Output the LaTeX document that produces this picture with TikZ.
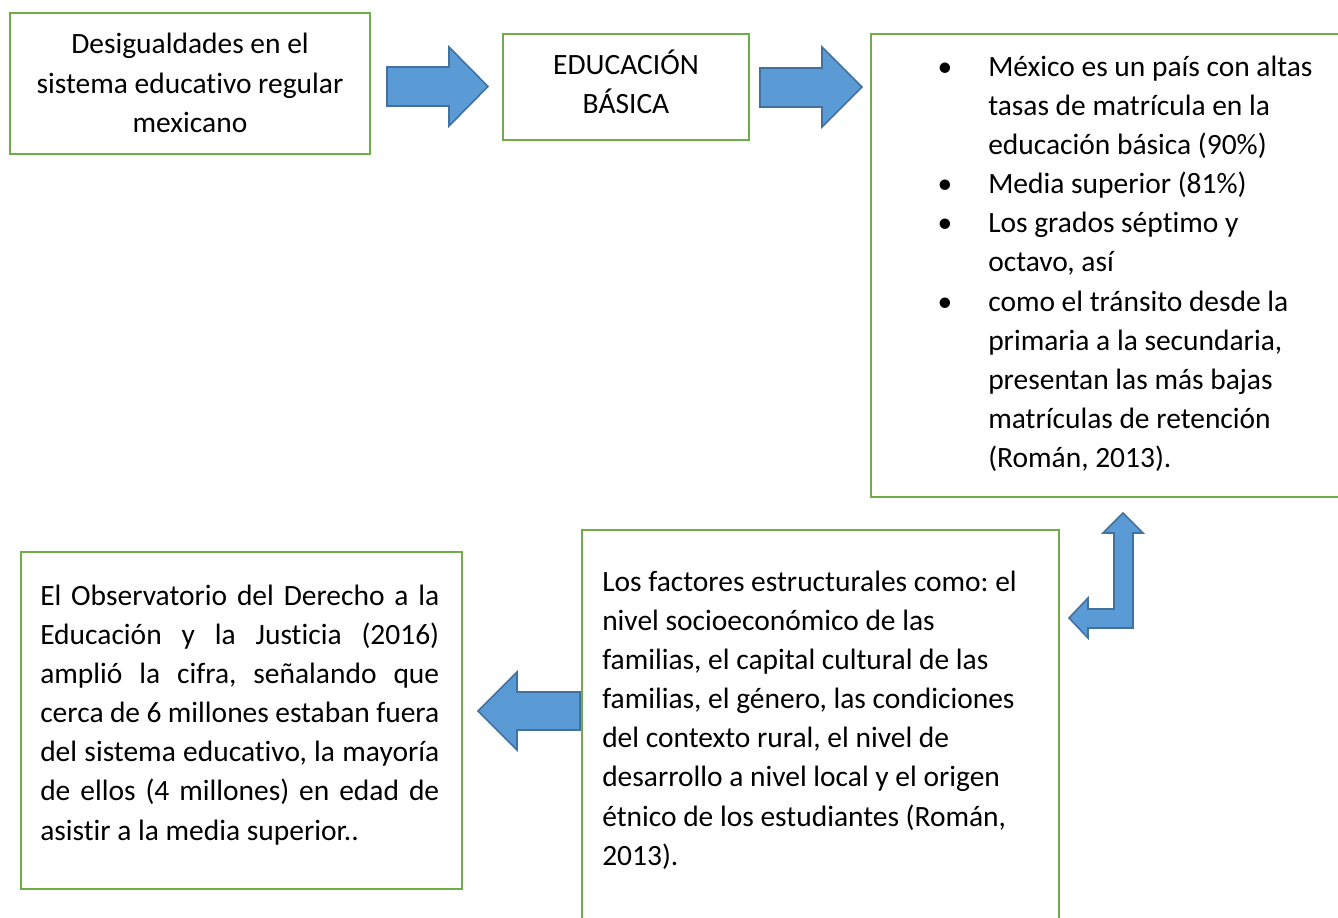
\documentclass[tikz,border=0pt]{standalone}
\usepackage{fontspec}
\setmainfont{Carlito}[Ligatures=NoCommon]
\usepackage{enumitem}
\usetikzlibrary{positioning,calc,fit}
\definecolor{verde}{HTML}{70AD47}
\definecolor{azul}{HTML}{5B9BD5}
\definecolor{azulborde}{HTML}{41719C}
\frenchspacing

\begin{document}
\begin{tikzpicture}[x=0.75pt,y=-0.75pt,
    caja/.style = {draw=verde, line width=1.5pt, inner sep=0pt},
    texto/.style = {inner sep=0pt, font=\fontsize{22.1pt}{29.3pt}\selectfont},
    flecha/.style = {fill=azul, draw=azulborde, line width=1.2pt, line join=miter}]
  \useasboundingbox (0,0) rectangle (1338,917);
  \clip (0,0) rectangle (1338,917);
  % cajas
  \node [caja, fit={(10,13) (370,154)}] (desig) {};
  \node [caja, fit={(503,34) (749,140)}] (edu) {};
  \node [caja, fit={(871,34) (1345,497)}] (datos) {};
  \node [caja, fit={(582,530) (1059,925)}] (factores) {};
  \node [caja, fit={(21,552) (462,889)}] (observ) {};
  % textos
  \node [texto, align=center] (desigtxt) at ($(desig.center)+(0,-4)$)
    {\strut Desigualdades en el\\ sistema educativo regular\\ mexicano};
  \node [texto, align=center] (edutxt) at ($(edu.center)+(0,-7)$) {\strut EDUCACIÓN\\ BÁSICA};
  \node [texto, anchor=north west] (datostxt) at ($(datos.north west)+(59,16)$) {%
    \begin{minipage}{300pt}
    \begin{itemize}[nosep, leftmargin=44.25pt, labelsep=27pt, label=\textbullet]
      \item \strut México es un país con altas\\ tasas de matrícula en la\\ educación básica (90\%)
      \item Media superior (81\%)
      \item Los grados séptimo y\\ octavo, así
      \item como el tránsito desde la\\ primaria a la secundaria,\\ presentan las más bajas\\ matrículas de retención\\ (Román, 2013).
    \end{itemize}
    \end{minipage}};
  \node [texto, anchor=north west, text width=345pt, align=flush left] (factorestxt)
    at ($(factores.north west)+(21,35)$)
    {\strut Los factores estructurales como: el\\ nivel socioeconómico de las\\
     familias, el capital cultural de las\\ familias, el género, las condiciones\\
     del contexto rural, el nivel de\\ desarrollo a nivel local y el origen\\
     étnico de los estudiantes (Román,\\ 2013).};
  \node [texto, anchor=north west, text width=299.25pt, align=justify] (observtxt)
    at ($(observ.north west)+(20,27)$)
    {\strut El Observatorio del Derecho a la\linebreak Educación y la Justicia (2016)\linebreak
     amplió la cifra, señalando que\linebreak cerca de 6 millones estaban fuera\linebreak
     del sistema educativo, la mayoría\linebreak de ellos (4 millones) en edad de\linebreak
     asistir a la media superior..};
  % flechas
  \draw [flecha] (387,67) -- (449,67) -- (449,47) -- (488,86.5) -- (449,126)
    -- (449,106) -- (387,106) -- cycle;
  \draw [flecha] (760,68) -- (822,68) -- (822,47) -- (862,87) -- (822,127)
    -- (822,107) -- (760,107) -- cycle;
  \draw [flecha] (1123,513) -- (1143,533) -- (1133,533) -- (1133,628) -- (1088,628)
    -- (1088,638) -- (1069,618) -- (1088,598) -- (1088,609) -- (1114,609)
    -- (1114,533) -- (1103,533) -- cycle;
  \draw [flecha] (478,711) -- (517,672) -- (517,692) -- (580,692) -- (580,730)
    -- (517,730) -- (517,750) -- cycle;
\end{tikzpicture}
\end{document}
